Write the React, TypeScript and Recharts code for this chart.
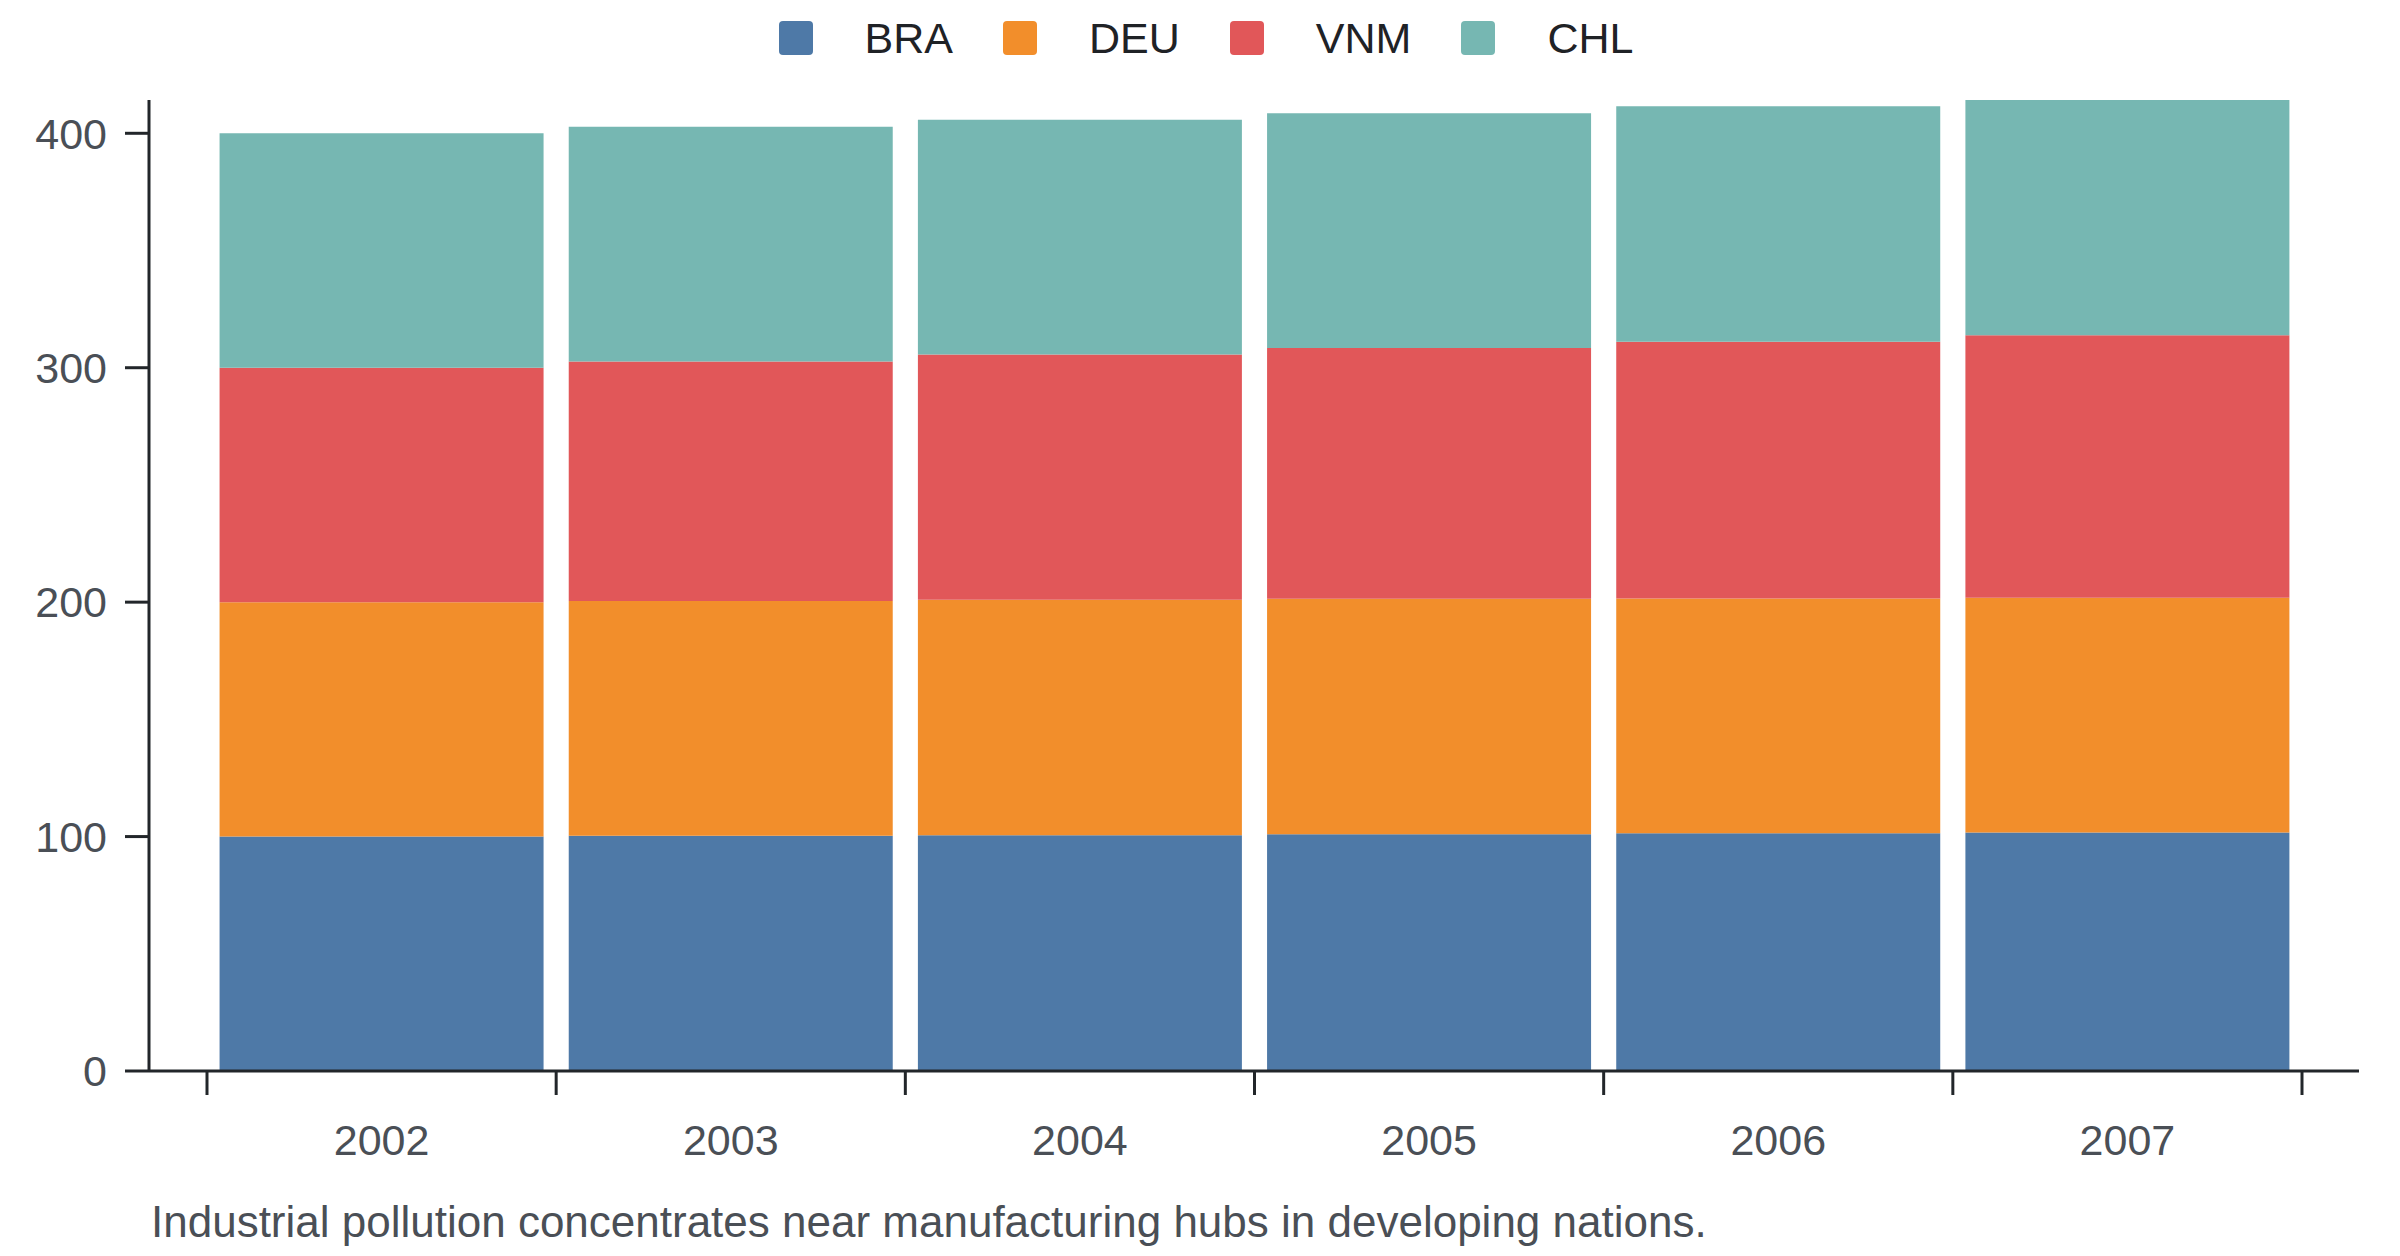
import React from 'react';
import { BarChart, Bar, XAxis, YAxis, Legend, Label } from 'recharts';

const YEARS = ['2002', '2003', '2004', '2005', '2006', '2007'];
const BRA = [100.0, 100.3, 100.6, 101.0, 101.4, 101.7];
const DEU = [100.0, 100.2, 100.4, 100.4, 100.2, 100.2];
const VNM = [100.0, 102.2, 104.6, 107.0, 109.5, 111.9];
const CHL = [100.0, 100.1, 100.2, 100.2, 100.4, 100.4];
const Y_TICKS = [0, 100, 200, 300, 400];
const CAPTION = 'Industrial pollution concentrates near manufacturing hubs in developing nations.';

const SERIES = [
  { key: 'BRA', values: BRA, color: '#4e79a7' },
  { key: 'DEU', values: DEU, color: '#f28e2b' },
  { key: 'VNM', values: VNM, color: '#e15759' },
  { key: 'CHL', values: CHL, color: '#76b7b2' },
];

const data = YEARS.map((year, i) => {
  const row: Record<string, string | number> = { year };
  SERIES.forEach((s) => {
    row[s.key] = s.values[i];
  });
  return row;
});

const FONT = '"Liberation Sans", Arial, Helvetica, sans-serif';
const FONT_SIZE = 43;
const AXIS_COLOR = '#22262a';
const TICK_TEXT = '#4a4f56';

const WIDTH = 2400;
const HEIGHT = 1256;
const MARGIN = { top: 24, right: 41, bottom: 0, left: 0 };
const Y_AXIS_WIDTH = 149;
const X_PAD = { left: 58, right: 57 };
const X_TICK_SIZE = 24;
const X_TICK_MARGIN = 29;
const PLOT_W = WIDTH - MARGIN.left - MARGIN.right - Y_AXIS_WIDTH;
const BAND = (PLOT_W - X_PAD.left - X_PAD.right) / YEARS.length;

// year labels sit mid-band, tick marks sit on the band edges
function XTick(props: any) {
  const { x, y, payload, index } = props;
  const axisY = y - X_TICK_MARGIN - X_TICK_SIZE;
  const edges = [x - BAND / 2];
  if (index === YEARS.length - 1) edges.push(x + BAND / 2);
  return (
    <g>
      {edges.map((ex) => (
        <line key={ex} x1={ex} x2={ex} y1={axisY} y2={axisY + X_TICK_SIZE} stroke={AXIS_COLOR} strokeWidth={3} />
      ))}
      <text x={x} y={y} dy="0.71em" textAnchor="middle" fontSize={FONT_SIZE} fontFamily={FONT} fill={TICK_TEXT}>
        {payload.value}
      </text>
    </g>
  );
}

function LegendContent() {
  return (
    <div
      style={{
        display: 'flex',
        justifyContent: 'center',
        alignItems: 'center',
        height: 76,
        paddingLeft: 12,
        fontFamily: FONT,
        fontSize: FONT_SIZE,
        color: '#1f2226',
      }}
    >
      {SERIES.map((s, i) => (
        <div key={s.key} style={{ display: 'flex', alignItems: 'center', marginRight: i < SERIES.length - 1 ? 50 : 0 }}>
          <span style={{ width: 34, height: 34, borderRadius: 4, background: s.color, marginRight: 52, display: 'inline-block' }} />
          <span style={{ lineHeight: 1 }}>{s.key}</span>
        </div>
      ))}
    </div>
  );
}

function Caption(props: any) {
  const { viewBox } = props;
  return (
    <text x={viewBox.x + 2} y={viewBox.y + 166} fontSize={44} fontFamily={FONT} fill={TICK_TEXT} textAnchor="start">
      {CAPTION}
    </text>
  );
}

export default function App() {
  return (
    <div style={{ position: 'absolute', left: 0, top: 0, width: WIDTH, height: HEIGHT, background: '#fff', fontFamily: FONT }}>
      <BarChart width={WIDTH} height={HEIGHT} data={data} margin={MARGIN} barCategoryGap="3.6%">
        <Legend
          verticalAlign="top"
          align="center"
          width={WIDTH}
          height={76}
          wrapperStyle={{ top: 0, left: 0 }}
          content={<LegendContent />}
        />
        <XAxis
          dataKey="year"
          height={185}
          padding={X_PAD}
          axisLine={{ stroke: AXIS_COLOR, strokeWidth: 3 }}
          tickLine={false}
          tickSize={X_TICK_SIZE}
          tickMargin={X_TICK_MARGIN}
          tick={<XTick />}
          interval={0}
        >
          <Label content={<Caption />} />
        </XAxis>
        <YAxis
          width={Y_AXIS_WIDTH}
          domain={[0, 'dataMax']}
          ticks={Y_TICKS}
          axisLine={{ stroke: AXIS_COLOR, strokeWidth: 3 }}
          tickLine={{ stroke: AXIS_COLOR, strokeWidth: 3 }}
          tickSize={24}
          tickMargin={18}
          tick={{ fontSize: FONT_SIZE, fontFamily: FONT, fill: TICK_TEXT }}
        />
        {SERIES.map((s) => (
          <Bar key={s.key} dataKey={s.key} stackId="a" fill={s.color} isAnimationActive={false} />
        ))}
      </BarChart>
    </div>
  );
}
